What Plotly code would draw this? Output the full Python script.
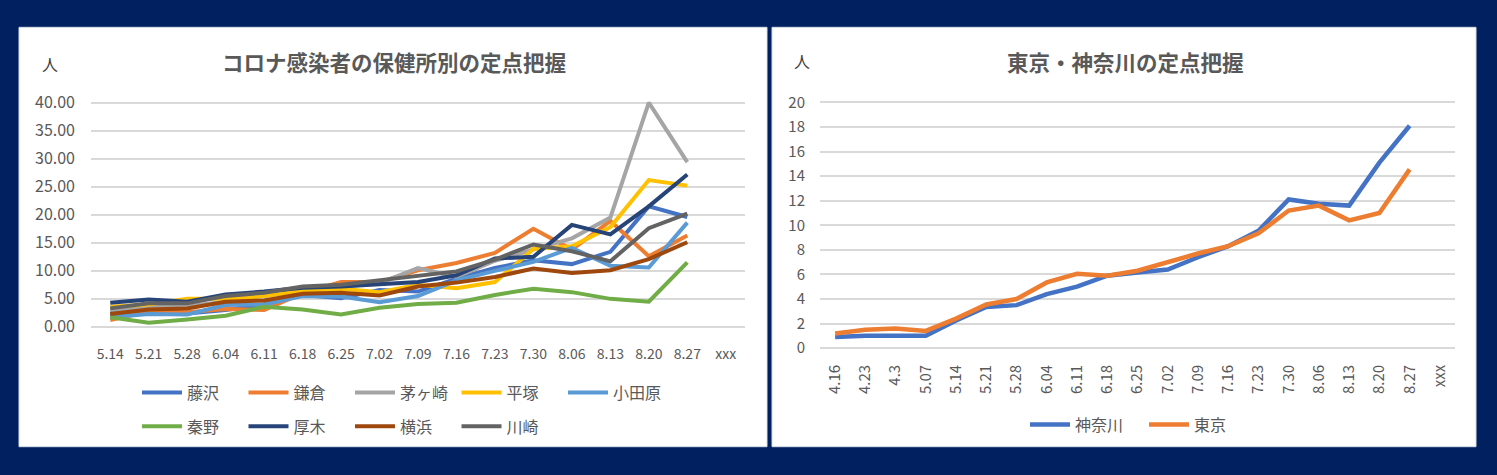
import plotly.graph_objects as go

W, H = 1497, 475

# ---------------- data: left chart ----------------
dates_l = ["5.14", "5.21", "5.28", "6.04", "6.11", "6.18", "6.25", "7.02",
           "7.09", "7.16", "7.23", "7.30", "8.06", "8.13", "8.20", "8.27"]
cats_l = dates_l + ["xxx"]

fujisawa = [2.5, 2.5, 2.4, 3.0, 4.0, 5.7, 5.1, 6.6, 6.3, 8.6, 10.5, 11.9, 11.2, 13.4, 21.5, 19.6]
kamakura = [1.2, 2.8, 2.6, 3.2, 3.0, 6.0, 8.0, 8.0, 10.1, 11.4, 13.2, 17.5, 13.8, 18.9, 12.6, 16.3]
chigasaki = [3.0, 3.5, 3.7, 4.5, 5.5, 6.8, 7.2, 7.8, 10.5, 8.9, 11.8, 13.8, 15.8, 19.5, 40.0, 29.4]
hiratsuka = [3.6, 4.0, 5.0, 5.0, 5.5, 6.4, 6.8, 6.2, 7.5, 6.9, 8.0, 13.9, 14.4, 17.8, 26.2, 25.2]
odawara = [1.7, 2.3, 2.2, 3.9, 4.0, 5.5, 5.4, 4.4, 5.5, 8.3, 10.0, 11.6, 14.1, 10.9, 10.6, 18.6]
hadano = [1.7, 0.75, 1.3, 2.0, 3.6, 3.1, 2.2, 3.4, 4.1, 4.3, 5.7, 6.8, 6.2, 5.0, 4.5, 11.5]
atsugi = [4.3, 4.9, 4.5, 5.8, 6.3, 7.0, 7.2, 7.6, 8.0, 9.2, 12.2, 12.5, 18.2, 16.5, 21.5, 27.2]
yokohama = [2.3, 3.1, 3.3, 4.5, 4.7, 5.9, 6.1, 5.6, 7.2, 7.9, 8.9, 10.4, 9.6, 10.1, 12.1, 15.1]
kawasaki = [3.3, 4.2, 4.2, 5.5, 6.1, 7.2, 7.5, 8.3, 9.0, 9.9, 12.0, 14.7, 13.5, 11.7, 17.6, 20.2]

names_l = ["藤沢", "鎌倉", "茅ヶ崎", "平塚", "小田原", "秦野", "厚木", "横浜", "川崎"]
series_l = [fujisawa, kamakura, chigasaki, hiratsuka, odawara, hadano, atsugi, yokohama, kawasaki]
colors_l = ["#4472C4", "#ED7D31", "#A5A5A5", "#FFC000", "#5B9BD5",
            "#70AD47", "#264478", "#9E480E", "#636363"]
yticks_l = [0, 5, 10, 15, 20, 25, 30, 35, 40]

# ---------------- data: right chart ----------------
dates_r = ["4.16", "4.23", "4.3", "5.07", "5.14", "5.21", "5.28", "6.04", "6.11", "6.18",
           "6.25", "7.02", "7.09", "7.16", "7.23", "7.30", "8.06", "8.13", "8.20", "8.27"]
cats_r = dates_r + ["xxx"]
kanagawa = [0.9, 1.0, 1.0, 1.0, 2.25, 3.35, 3.5, 4.4, 5.0, 5.9, 6.15, 6.4, 7.4, 8.3, 9.55,
            12.1, 11.75, 11.6, 15.1, 18.1]
tokyo = [1.2, 1.5, 1.6, 1.4, 2.4, 3.55, 4.0, 5.35, 6.05, 5.9, 6.3, 7.0, 7.7, 8.3, 9.35,
         11.2, 11.6, 10.4, 11.0, 14.55]
names_r = ["神奈川", "東京"]
series_r = [kanagawa, tokyo]
colors_r = ["#4472C4", "#ED7D31"]
yticks_r = list(range(0, 21, 2))

# ---------------- styling ----------------
NAVY = "#002060"
GRID = "#D9D9D9"
TXT = "#595959"
FONT = "Noto Sans CJK JP"


def fx(p):
    return p / W


def fy(p):
    return 1 - p / H


fig = go.Figure()

for i, (name, vals, col) in enumerate(zip(names_l, series_l, colors_l)):
    fig.add_trace(go.Scatter(
        x=dates_l, y=vals, name=name, mode="lines",
        line=dict(color=col, width=4),
        xaxis="x", yaxis="y",
        legend="legend" if i < 5 else "legend2",
        hoverinfo="skip",
    ))

for name, vals, col in zip(names_r, series_r, colors_r):
    fig.add_trace(go.Scatter(
        x=dates_r, y=vals, name=name, mode="lines",
        line=dict(color=col, width=4.5),
        xaxis="x2", yaxis="y2",
        legend="legend3",
        hoverinfo="skip",
    ))

# left plot geometry (pixels)
L_x0, L_x1 = 91, 745
L_zero, L_ppu = 330, 5.8
L_rng = [-0.5, 41]
L_bot = L_zero - L_rng[0] * L_ppu
L_top = L_zero - L_rng[1] * L_ppu

R_x0, R_x1 = 820, 1455
R_zero, R_ppu = 352, 12.715
R_rng = [-0.3, 20.5]
R_bot = R_zero - R_rng[0] * R_ppu
R_top = R_zero - R_rng[1] * R_ppu

axis_common = dict(showline=False, zeroline=False, ticks="")

leg_common = dict(
    orientation="h", xanchor="left", yanchor="middle", itemwidth=40,
    entrywidthmode="pixels", bgcolor="rgba(0,0,0,0)",
    font=dict(size=16, color=TXT, family=FONT), traceorder="normal",
    itemclick=False, itemdoubleclick=False,
)

fig.update_layout(
    width=W, height=H,
    margin=dict(l=0, r=0, t=0, b=0, pad=0),
    paper_bgcolor=NAVY,
    plot_bgcolor="rgba(0,0,0,0)",
    hovermode=False,
    font=dict(family=FONT, color=TXT),
    xaxis=dict(
        domain=[fx(L_x0), fx(L_x1)], anchor="y", type="category",
        categoryorder="array", categoryarray=cats_l,
        range=[-0.5, len(cats_l) - 0.5], showgrid=False,
        tickfont=dict(size=14, color=TXT), ticklabelstandoff=14,
        **axis_common,
    ),
    yaxis=dict(
        domain=[fy(L_bot), fy(L_top)], anchor="x", range=L_rng,
        tickvals=yticks_l, tickformat=".2f", showgrid=True, gridcolor=GRID,
        gridwidth=1.5, tickfont=dict(size=16, color=TXT), ticklabelstandoff=15,
        **axis_common,
    ),
    xaxis2=dict(
        domain=[fx(R_x0), fx(R_x1)], anchor="y2", type="category",
        categoryorder="array", categoryarray=cats_r,
        range=[-0.5, len(cats_r) - 0.5], showgrid=False, tickangle=-90,
        tickfont=dict(size=15, color=TXT), ticklabelstandoff=9,
        **axis_common,
    ),
    yaxis2=dict(
        domain=[fy(R_bot), fy(R_top)], anchor="x2", range=R_rng,
        tickvals=yticks_r, showgrid=True, gridcolor=GRID, gridwidth=1.5,
        tickfont=dict(size=15, color=TXT), ticklabelstandoff=14,
        **axis_common,
    ),
    legend=dict(x=fx(137), y=fy(398), entrywidth=51.5, **leg_common),
    legend2=dict(x=fx(137), y=fy(433), entrywidth=51.5, **leg_common),
    legend3=dict(x=fx(1025), y=fy(431), entrywidth=64, **leg_common),
    shapes=[
        dict(type="rect", xref="paper", yref="paper", layer="below",
             x0=fx(19), x1=fx(767), y0=fy(454), y1=fy(20),
             fillcolor="white", line=dict(color="#D6DCE5", width=1)),
        dict(type="rect", xref="paper", yref="paper", layer="below",
             x0=fx(772), x1=fx(1476), y0=fy(454), y1=fy(20),
             fillcolor="white", line=dict(color="#D6DCE5", width=1)),
    ],
    annotations=[
        dict(text="<b>コロナ感染者の保健所別の定点把握</b>", xref="paper", yref="paper",
             x=fx(394), y=fy(55), xanchor="center", yanchor="middle", showarrow=False,
             font=dict(size=21.5, color=TXT, family=FONT)),
        dict(text="<b>東京・神奈川の定点把握</b>", xref="paper", yref="paper",
             x=fx(1125), y=fy(55), xanchor="center", yanchor="middle", showarrow=False,
             font=dict(size=21.5, color=TXT, family=FONT)),
        dict(text="人", xref="paper", yref="paper", x=fx(50), y=fy(58),
             xanchor="center", yanchor="middle", showarrow=False,
             font=dict(size=16, color="#404040", family=FONT)),
        dict(text="人", xref="paper", yref="paper", x=fx(802), y=fy(55),
             xanchor="center", yanchor="middle", showarrow=False,
             font=dict(size=16, color="#404040", family=FONT)),
    ],
)

fig.write_html(
    "out.html",
    config={"displayModeBar": False},
    post_script="document.body.style.margin='0';document.body.style.background='%s';" % NAVY,
)
